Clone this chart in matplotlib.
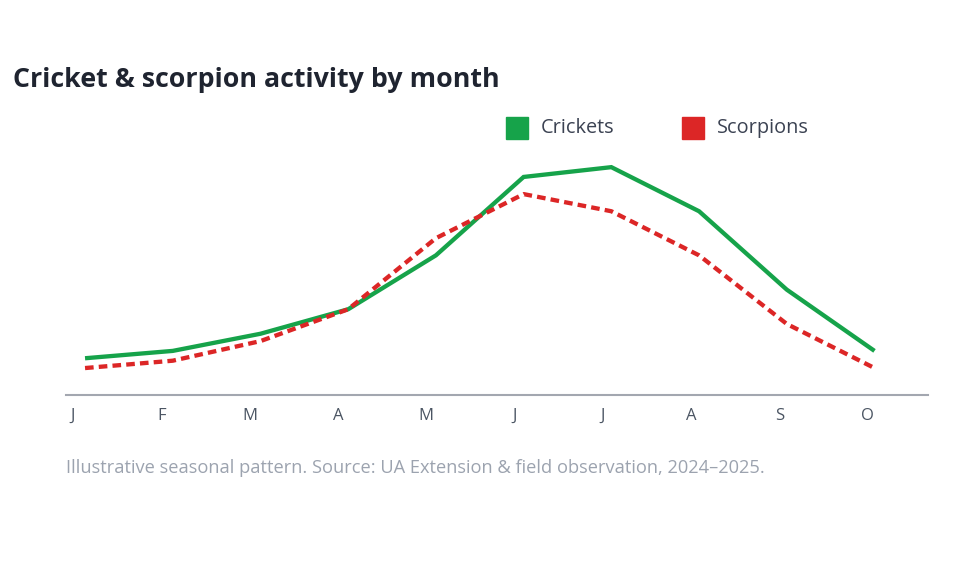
import matplotlib
matplotlib.use("Agg")
import matplotlib.pyplot as plt
import matplotlib.transforms as mtransforms
from matplotlib.patches import Rectangle

months = ["J", "F", "M", "A", "M", "J", "J", "A", "S", "O"]
crickets = [15, 18, 25, 35, 57, 89, 93, 75, 43, 18]
scorpions = [11, 14, 22, 35, 64, 82, 75, 57, 29, 11]

GREEN = "#16a34a"
RED = "#dc2626"

plt.rcParams["font.family"] = ["Open Sans", "DejaVu Sans"]

fig = plt.figure(figsize=(9.6, 5.76), dpi=100)
ax = fig.add_axes([66 / 960, 181 / 576, 862 / 960, 245 / 576])

x = list(range(len(months)))
ax.plot(x, crickets, color=GREEN, lw=3.1, solid_capstyle="butt", solid_joinstyle="miter")
ax.plot(x, scorpions, color=RED, lw=3.1, dashes=(2.0, 1.2), dash_capstyle="butt")

ax.set_xlim(-0.217, 9.61)
ax.set_ylim(0, 100)
for s in ["top", "right", "left"]:
    ax.spines[s].set_visible(False)
ax.spines["bottom"].set_color("#a3a7b0")
ax.spines["bottom"].set_linewidth(1.5)
ax.set_yticks([])
ax.set_xticks(x)
ax.set_xticklabels(months, fontsize=12, color="#4b5563")
ax.tick_params(axis="x", length=0, pad=9)
# labels sit a bit left of the data points, spread slightly wider
for i, lbl in enumerate(ax.get_xticklabels()):
    dx = (-12 + 0.6 * i) / 100
    offset = mtransforms.ScaledTranslation(dx, 0, fig.dpi_scale_trans)
    lbl.set_transform(lbl.get_transform() + offset)

fig.text(13 / 960, 1 - 80 / 576, "Cricket & scorpion activity by month",
         fontsize=19.3, fontweight="bold", color="#1f2430", va="center", ha="left")

# legend
for px, label, col in [(506, "Crickets", GREEN), (682, "Scorpions", RED)]:
    fig.patches.append(Rectangle((px / 960, 1 - 139 / 576), 22 / 960, 22 / 576,
                                 transform=fig.transFigure, color=col, figure=fig))
    fig.text((px + 35) / 960, 1 - 128 / 576, label, fontsize=14.3, color="#3b4252",
             va="center", ha="left")

fig.text(66 / 960, 1 - 468 / 576,
         "Illustrative seasonal pattern. Source: UA Extension & field observation, 2024\u20132025.",
         fontsize=13.15, color="#9ca3af", va="center", ha="left")

fig.savefig("out.png", dpi=100, facecolor="white")
